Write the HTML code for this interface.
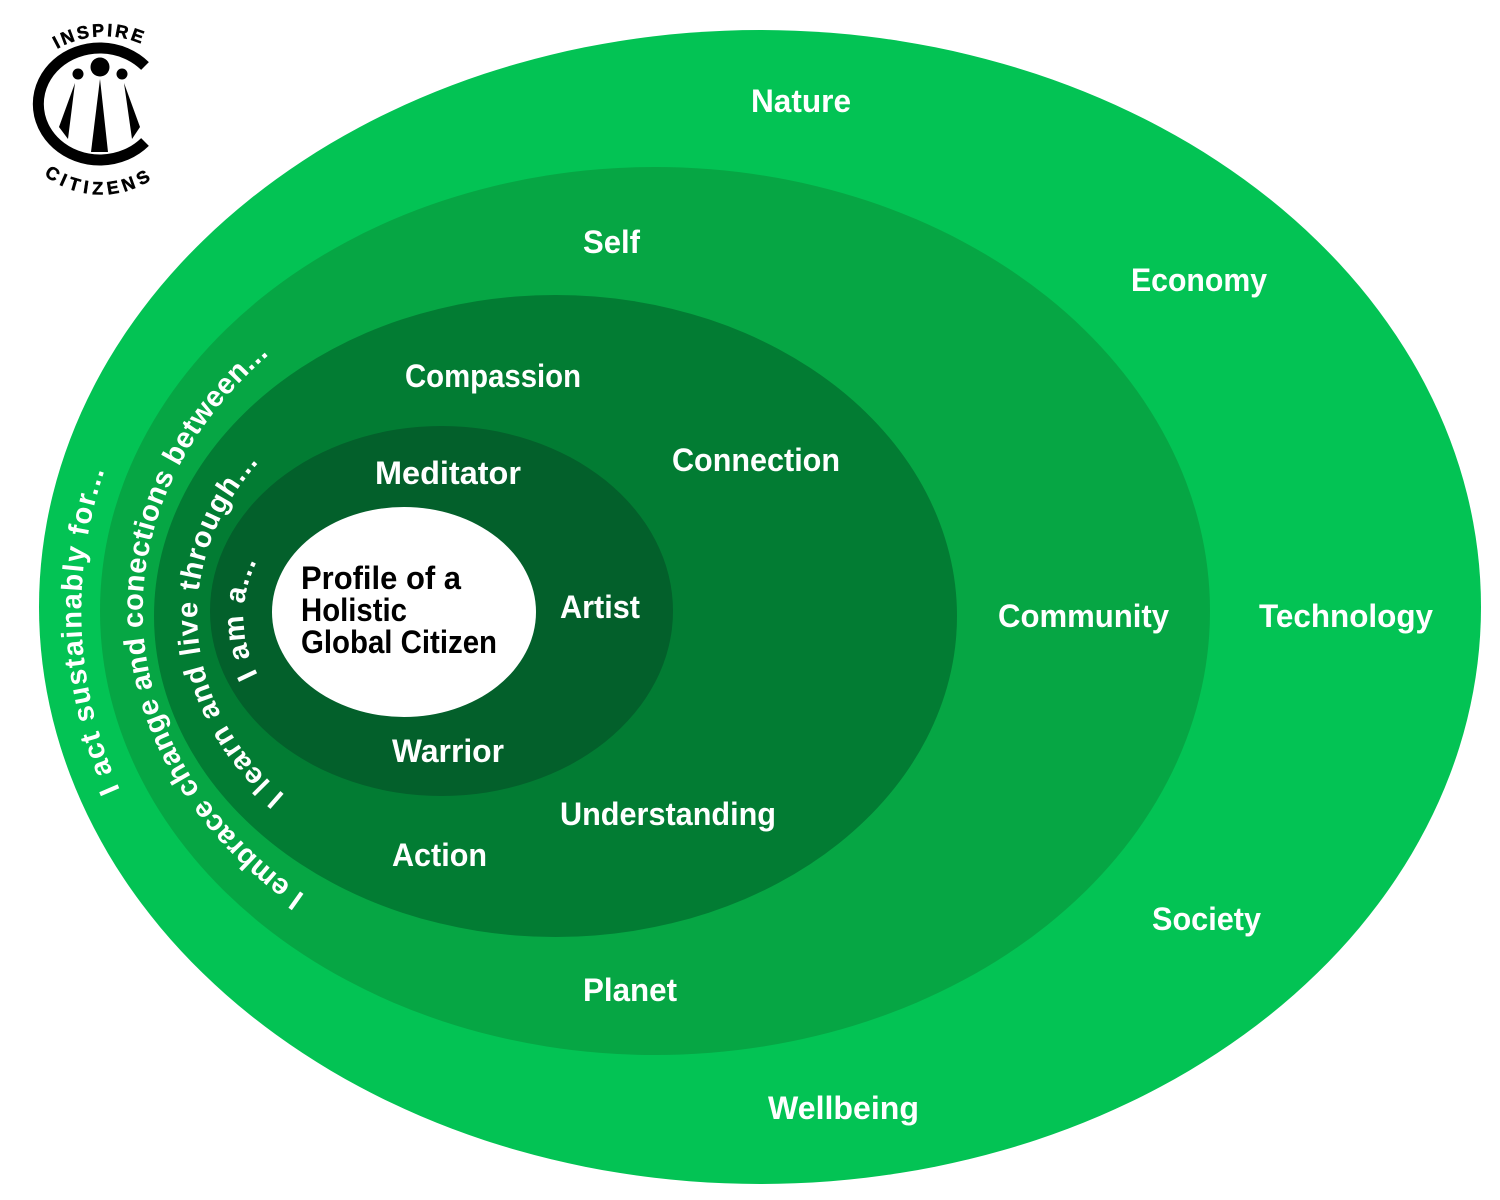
<!DOCTYPE html>
<html lang="en">
<head>
<meta charset="utf-8">
<title>Profile of a Holistic Global Citizen</title>
<style>
html,body{margin:0;padding:0;background:#fff;width:1500px;height:1200px;overflow:hidden}
svg{display:block}
text{font-family:"Liberation Sans",sans-serif;font-weight:700}
.l{fill:#fff;font-size:32px}
.c{fill:#000;font-size:32px}
.a{fill:#fff;font-size:29px}
.g{fill:#000;font-size:18px;stroke:#000;stroke-width:.5px}
</style>
</head>
<body>
<svg width="1500" height="1200" viewBox="0 0 1500 1200" xmlns="http://www.w3.org/2000/svg">
<defs>
<path id="p1" d="M120 790 A680 540 0 0 1 114 445"/>
<path id="p2" d="M305 895 A483 380 0 0 1 287 340"/>
<path id="p3" d="M285 795 A305 255 0 0 1 276 445"/>
<path id="p4" d="M258 675 A186 150 0 0 1 262 552"/>
<path id="p5" d="M57 49 A95 95 0 0 1 150 48"/>
<path id="p6" d="M44 175 A93 93 0 0 0 158 175"/>
</defs>
<ellipse cx="760" cy="607" rx="721" ry="577" fill="#03c354"/>
<ellipse cx="655" cy="611" rx="555" ry="444" fill="#06a644"/>
<ellipse cx="555.5" cy="616" rx="401.5" ry="321" fill="#027c33"/>
<ellipse cx="441.5" cy="611" rx="231.5" ry="185" fill="#03602b"/>
<ellipse cx="404" cy="612" rx="132" ry="105" fill="#fff"/>

<text class="l" x="751" y="112" textLength="100" lengthAdjust="spacingAndGlyphs">Nature</text>
<text class="l" x="583" y="253" textLength="57" lengthAdjust="spacingAndGlyphs">Self</text>
<text class="l" x="1131" y="291" textLength="136" lengthAdjust="spacingAndGlyphs">Economy</text>
<text class="l" x="405" y="387" textLength="176" lengthAdjust="spacingAndGlyphs">Compassion</text>
<text class="l" x="672" y="471" textLength="168" lengthAdjust="spacingAndGlyphs">Connection</text>
<text class="l" x="375" y="484" textLength="146" lengthAdjust="spacingAndGlyphs">Meditator</text>
<text class="l" x="560" y="618" textLength="80" lengthAdjust="spacingAndGlyphs">Artist</text>
<text class="l" x="998" y="627" textLength="171" lengthAdjust="spacingAndGlyphs">Community</text>
<text class="l" x="1259" y="627" textLength="174" lengthAdjust="spacingAndGlyphs">Technology</text>
<text class="l" x="392" y="762" textLength="112" lengthAdjust="spacingAndGlyphs">Warrior</text>
<text class="l" x="560" y="825" textLength="216" lengthAdjust="spacingAndGlyphs">Understanding</text>
<text class="l" x="392" y="866" textLength="95" lengthAdjust="spacingAndGlyphs">Action</text>
<text class="l" x="1152" y="930" textLength="109" lengthAdjust="spacingAndGlyphs">Society</text>
<text class="l" x="583" y="1001" textLength="94" lengthAdjust="spacingAndGlyphs">Planet</text>
<text class="l" x="768" y="1119" textLength="151" lengthAdjust="spacingAndGlyphs">Wellbeing</text>

<text class="c" x="301" y="589" textLength="160" lengthAdjust="spacingAndGlyphs">Profile of a</text>
<text class="c" x="301" y="621" textLength="106" lengthAdjust="spacingAndGlyphs">Holistic</text>
<text class="c" x="301" y="653" textLength="196" lengthAdjust="spacingAndGlyphs">Global Citizen</text>

<text class="a" letter-spacing="1.4"><textPath href="#p1">I act sustainably for...</textPath></text>
<text class="a" letter-spacing="0.5"><textPath href="#p2">I embrace change and conections between...</textPath></text>
<text class="a" letter-spacing="1.2"><textPath href="#p3">I learn and live through...</textPath></text>
<text class="a" letter-spacing="1.4"><textPath href="#p4">I am a...</textPath></text>

<path d="M145 66 A61.5 56 0 1 0 145 142" fill="none" stroke="#000" stroke-width="11"/>
<circle cx="100" cy="67" r="9.5" fill="#000"/>
<circle cx="78" cy="74" r="5.5" fill="#000"/>
<circle cx="122" cy="74" r="5.5" fill="#000"/>
<polygon points="100,79 108,152 91,152" fill="#000"/>
<polygon points="75,83 68,139 59,127" fill="#000"/>
<polygon points="124,83 140,127 132,139" fill="#000"/>
<text class="g" letter-spacing="2.5"><textPath href="#p5">INSPIRE</textPath></text>
<text class="g" letter-spacing="4.6"><textPath href="#p6">CITIZENS</textPath></text>
</svg>
</body>
</html>
